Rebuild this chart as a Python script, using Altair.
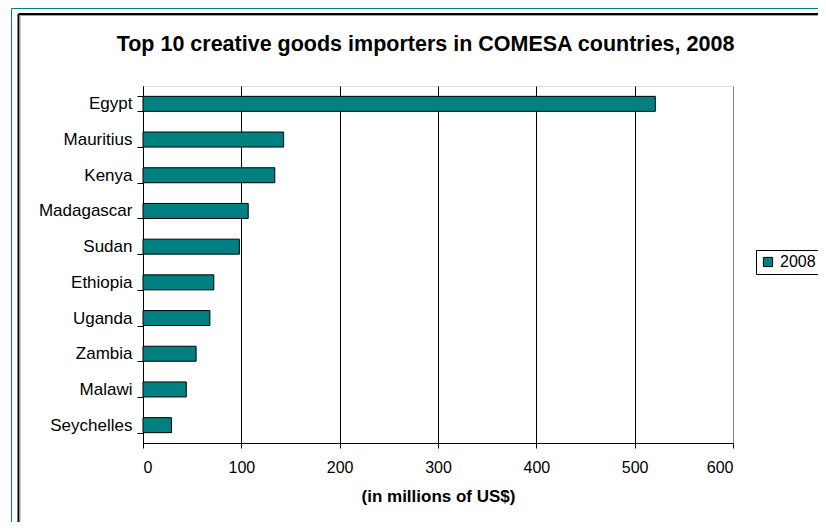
import altair as alt
import pandas as pd

countries = ["Egypt", "Mauritius", "Kenya", "Madagascar", "Sudan",
             "Ethiopia", "Uganda", "Zambia", "Malawi", "Seychelles"]
values = [521, 143, 134, 107, 98, 72, 68, 54, 44, 29]
series_name = "2008"
x_ticks = [0, 100, 200, 300, 400, 500, 600]
chart_title = "Top 10 creative goods importers in COMESA countries, 2008"

df = pd.DataFrame({"country": countries, "value": values,
                   "series": [series_name] * len(countries)})

FONT = "Liberation Sans"
TEAL = "#008080"

bars = alt.Chart(df).mark_bar(stroke="black", strokeWidth=1).encode(
    y=alt.Y("country:N", sort=countries,
            scale=alt.Scale(paddingInner=0.58, paddingOuter=0.29),
            axis=alt.Axis(title=None, tickBand="extent", ticks=True, tickSize=6,
                          tickColor="black", domainColor="black", grid=False,
                          labelFontSize=17, labelColor="black", labelPadding=5,
                          labelFont=FONT)),
    x=alt.X("value:Q", scale=alt.Scale(domain=[0, 600], nice=False),
            axis=alt.Axis(values=x_ticks, title="(in millions of US$)",
                          titleFont=FONT, titleFontSize=17, titleFontWeight="bold",
                          titleColor="black", titlePadding=13,
                          labelFont=FONT, labelFontSize=16, labelColor="black",
                          labelPadding=11, tickSize=5, tickColor="black",
                          domainColor="black", grid=True,
                          gridColor=alt.condition("datum.value == 600",
                                                  alt.value("#808080"),
                                                  alt.value("black")),
                          gridOpacity=1)),
    color=alt.Color("series:N", scale=alt.Scale(range=[TEAL]),
                    legend=alt.Legend(title=None, orient="none", legendX=613,
                                      legendY=164, strokeColor="black",
                                      padding=4, symbolType="square",
                                      symbolSize=85, symbolStrokeColor="black",
                                      symbolStrokeWidth=1, labelFontSize=16,
                                      labelFont=FONT, labelColor="black",
                                      labelOffset=4)),
)

one = pd.DataFrame({"a": [0]})
title_df = pd.DataFrame({"t": [chart_title]})

title_mark = alt.Chart(title_df).mark_text(
    font=FONT, fontSize=21.5, fontWeight="bold", color="black",
    align="center", baseline="alphabetic").encode(
    text="t:N", x=alt.value(282.5), y=alt.value(-35))

teal_v = alt.Chart(one).mark_rule(color=TEAL, strokeWidth=1).encode(
    x=alt.value(-131.5), y=alt.value(-77.5), y2=alt.value(444))
teal_h = alt.Chart(one).mark_rule(color=TEAL, strokeWidth=1).encode(
    x=alt.value(-131.5), x2=alt.value(683), y=alt.value(-77.5))
black_v = alt.Chart(one).mark_rule(color="black", strokeWidth=2).encode(
    x=alt.value(-124.5), y=alt.value(-72), y2=alt.value(444))
black_h = alt.Chart(one).mark_rule(color="black", strokeWidth=2).encode(
    x=alt.value(-124.5), x2=alt.value(683), y=alt.value(-72))
grey_v = alt.Chart(one).mark_rule(color="#a0a0a0", strokeWidth=1).encode(
    x=alt.value(-123), y=alt.value(-71), y2=alt.value(444))
grey_h = alt.Chart(one).mark_rule(color="#a0a0a0", strokeWidth=1).encode(
    x=alt.value(-123), x2=alt.value(683), y=alt.value(-70.5))

chart = alt.layer(teal_v, teal_h, black_v, black_h, grey_v, grey_h,
                  title_mark, bars).properties(
    width=590, height=357,
    autosize=alt.AutoSizeParams(type="none"),
    padding={"left": 135, "top": 78, "right": 85, "bottom": 79},
).configure_view(stroke="#808080", strokeWidth=1).configure(background="white")

chart.save("out.html", embed_options={"renderer": "svg", "actions": False})
